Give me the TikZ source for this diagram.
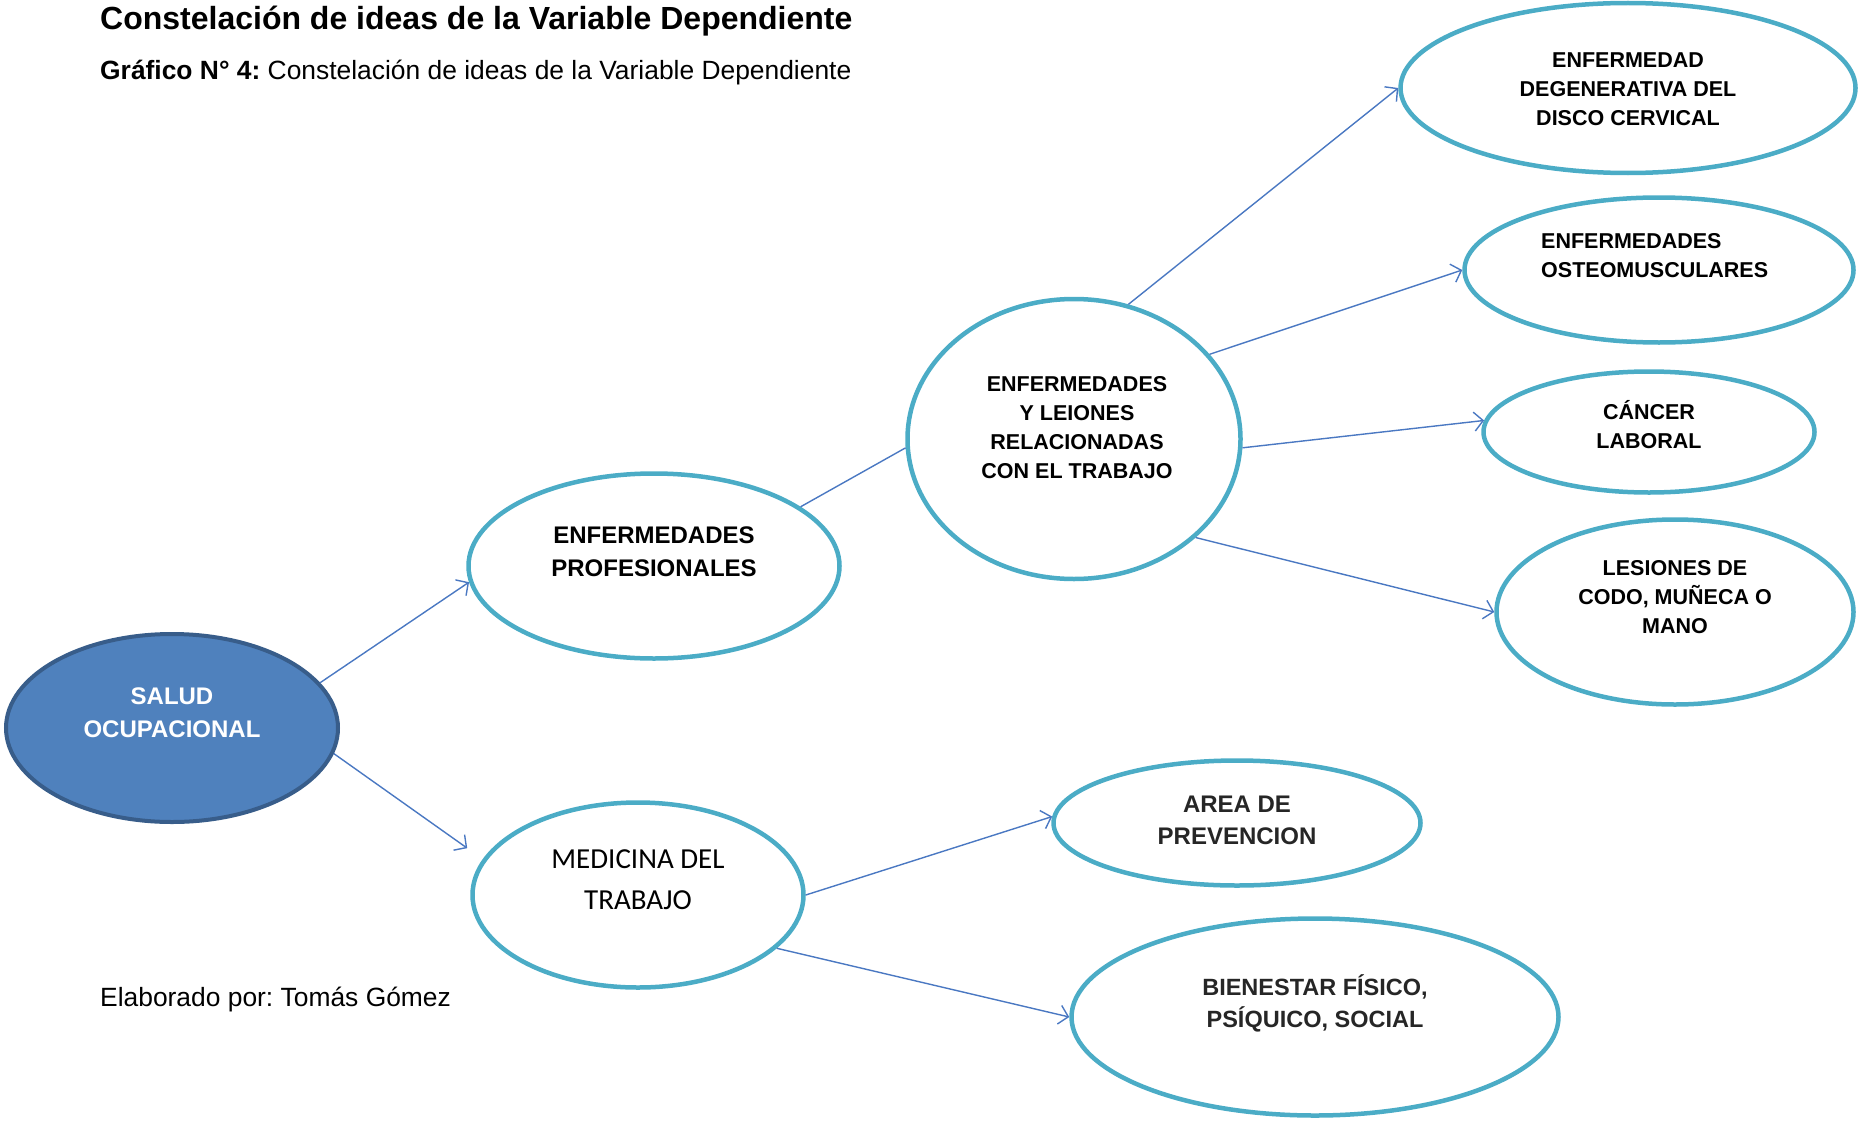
\documentclass[tikz,border=0pt]{standalone}
\usepackage{fontspec}
\setmainfont{Liberation Sans}
\newfontfamily\calibrifont{Carlito}
\usetikzlibrary{shapes.geometric,arrows.meta}

\definecolor{ringblue}{HTML}{4BACC6}
\definecolor{rootfill}{HTML}{4F81BD}
\definecolor{rootedge}{HTML}{385D8A}
\definecolor{linkblue}{HTML}{4A78C2}
\definecolor{darktext}{HTML}{262626}

\tikzset{
  idea/.style={ellipse, draw=ringblue, line width=4.5pt, fill=white, inner sep=0pt},
  root/.style={ellipse, draw=rootedge, line width=4pt, fill=rootfill, inner sep=0pt},
  link/.style={draw=linkblue, line width=1.4pt},
  linkarrow/.style={link, -{Straight Barb[length=9pt,width=19pt,line width=1.4pt]}},
  bigtxt/.style={font=\bfseries\fontsize{24}{33}\selectfont, align=center, inner sep=0pt},
  smalltxt/.style={font=\bfseries\fontsize{21.5}{29}\selectfont, align=center, inner sep=0pt},
}

\begin{document}
\frenchspacing
\begin{tikzpicture}[x=1pt, y=-1pt]
\useasboundingbox (0,0) rectangle (1859,1121);

% headings
\node[anchor=base west, inner sep=0pt, font=\bfseries\fontsize{32}{38}\selectfont] (title) at (100,30) {Constelación de ideas de la Variable Dependiente};
\node[anchor=base west, inner sep=0pt, font=\fontsize{26.4}{32}\selectfont] (caption) at (100,80) {\textbf{Gráfico N° 4:} Constelación de ideas de la Variable Dependiente};
\node[anchor=base west, inner sep=0pt, font=\fontsize{26.4}{32}\selectfont] (author) at (100,1006) {Elaborado por: Tomás Gómez};

% ellipses
\node[root, minimum width=332pt, minimum height=188pt] (salud) at (172,728) {};
\node[idea, minimum width=371pt, minimum height=185pt] (prof) at (654,566) {};
\node[idea, minimum width=333pt, minimum height=280pt] (enf) at (1074,439) {};
\node[idea, minimum width=455pt, minimum height=170pt] (deg) at (1628,88) {};
\node[idea, minimum width=389pt, minimum height=145pt] (osteo) at (1659,270) {};
\node[idea, minimum width=331pt, minimum height=121pt] (cancer) at (1649,432) {};
\node[idea, minimum width=357pt, minimum height=185pt] (lesion) at (1675,612) {};
\node[idea, minimum width=331pt, minimum height=185pt] (medic) at (638,895) {};
\node[idea, minimum width=367pt, minimum height=125pt] (area) at (1237,823) {};
\node[idea, minimum width=487pt, minimum height=197pt] (bien) at (1315,1017) {};

% texts
\node[bigtxt, text=white] (salud txt) at (172,713) {SALUD\\OCUPACIONAL};
\node[bigtxt] (prof txt) at (654,552) {ENFERMEDADES\\PROFESIONALES};
\node[smalltxt] (enf txt) at (1077,428) {ENFERMEDADES\\Y LEIONES\\RELACIONADAS\\CON EL TRABAJO};
\node[smalltxt] (deg txt) at (1628,89) {ENFERMEDAD\\DEGENERATIVA DEL\\DISCO CERVICAL};
\node[smalltxt, align=left, anchor=west] (osteo txt) at (1541,256) {ENFERMEDADES\\OSTEOMUSCULARES};
\node[smalltxt] (cancer txt) at (1649,425) {CÁNCER\\LABORAL};
\node[smalltxt] (lesion txt) at (1675,597) {LESIONES DE\\CODO, MUÑECA O\\MANO};
\node[align=center, inner sep=0pt, font=\calibrifont\fontsize{29}{41}\selectfont] (medic txt) at (638,880) {MEDICINA DEL\\TRABAJO};
\node[bigtxt, text=darktext, font=\bfseries\fontsize{24}{32}\selectfont] (area txt) at (1237,820) {AREA DE\\PREVENCION};
\node[bigtxt, text=darktext, font=\bfseries\fontsize{23.5}{32}\selectfont] (bien txt) at (1315,1003) {BIENESTAR FÍSICO,\\PSÍQUICO, SOCIAL};

% connectors
\draw[linkarrow] (salud.17) -- (prof.185);
\draw[linkarrow, shorten >=19pt] (salud.-9) -- (medic.167);
\draw[link] (prof.22) -- (enf.183);
\draw[linkarrow] (enf.68) -- (deg.180);
\draw[linkarrow] (enf.32) -- (osteo.180);
\draw[linkarrow] (enf.-3) -- (cancer.176);
\draw[linkarrow] (enf.-39) -- (lesion.180);
\draw[linkarrow] (medic.0) -- (area.178);
\draw[linkarrow] (medic.-21) -- (bien.180);
\end{tikzpicture}
\end{document}
